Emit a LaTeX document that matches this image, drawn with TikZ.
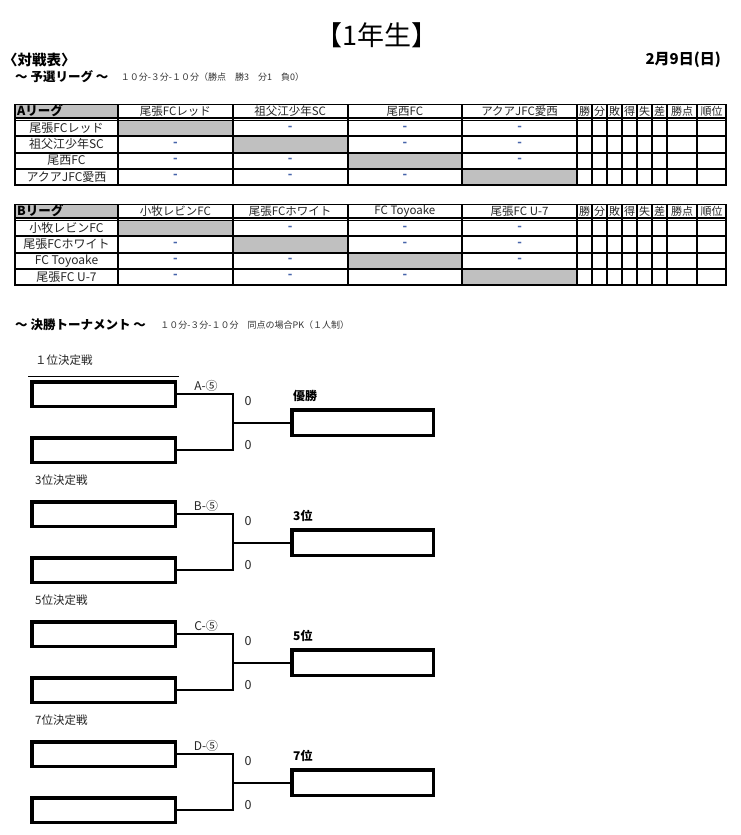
\documentclass[tikz,border=0pt]{standalone}
\usepackage{fontspec}
\setmainfont{Noto Sans CJK JP}
\usetikzlibrary{positioning}
\definecolor{cellgray}{RGB}{192,192,192}
\definecolor{dashblue}{RGB}{70,100,170}
\tikzset{
  grid/.style={line width=2pt},
  thin grid/.style={line width=0.8pt},
  cell/.style={inner sep=0pt,text=black!85,font=\fontsize{12}{12}\selectfont},
  head/.style={inner sep=0pt,text=black!85,font=\fontsize{11.5}{12}\selectfont},
  stat/.style={inner sep=0pt,text=black!85,font=\fontsize{11}{11}\selectfont},
  league/.style={inner sep=0pt,anchor=west,font=\fontsize{12.5}{13}\selectfont\bfseries},
  score/.style={inner sep=0pt,text=dashblue,font=\fontsize{12}{12}\selectfont\bfseries},
  teambox/.style={draw,line width=3.5pt,minimum width=143.5pt,minimum height=24.5pt,inner sep=0pt},
  winbox/.style={teambox,minimum width=141.5pt,minimum height=25.5pt},
  bracket/.style={line width=2pt},
  caption/.style={inner sep=0pt,anchor=west,text=black!85,font=\fontsize{11.5}{12}\selectfont},
  match/.style={inner sep=0pt,text=black!85,font=\fontsize{12}{12}\selectfont},
  goals/.style={inner sep=0pt,text=black!85,font=\fontsize{12.5}{12}\selectfont},
  result/.style={inner sep=0pt,font=\fontsize{12}{12}\selectfont\bfseries},
  heading/.style={inner sep=0pt,anchor=west,font=\fontsize{12.5}{13}\selectfont\bfseries},
  note/.style={inner sep=0pt,text=black!80,font=\fontsize{9}{9}\selectfont}
}

\begin{document}
\begin{tikzpicture}[x=1pt,y=-1pt]
  \useasboundingbox[fill=white] (0,0) rectangle (741,835);

  \node[font=\fontsize{27}{27}\selectfont] (title) at (377,35) {【1年生】};
  \node[inner sep=0pt,anchor=west,font=\fontsize{14.5}{15}\selectfont\bfseries] (sheet) at (3,60) {〈対戦表〉};
  \node[inner sep=0pt,anchor=east,font=\fontsize{15}{15}\selectfont\bfseries] (date) at (721,60) {2月9日(日)};
  \node[heading] (prelim) at (15,77) {～ 予選リーグ ～};
  \node[note,right=12pt of prelim] (prelimnote) {１０分-３分-１０分（勝点　勝3　分1　負0）};

  % league tables
  \foreach \lg/\yt/\teams in {A/104/{尾張FCレッド,祖父江少年SC,尾西FC,アクアJFC愛西},
                              B/204/{小牧レビンFC,尾張FCホワイト,FC Toyoake,尾張FC U-7}}{
    \begin{scope}[shift={(0,\yt)}]
      \fill[cellgray] (15,0) rectangle (118,14);
      \foreach \r in {1,...,4}
        \fill[cellgray] ({118+114.75*(\r-1)},{16+16.25*(\r-1)}) rectangle ++(114.75,16.25);
      \node[league] (\lg-0-0) at (17,7) {\lg リーグ};
      \foreach \t [count=\c] in \teams {
        \node[head] (\lg-0-\c) at ({118+114.75*(\c-0.5)},7) {\t};
        \node[cell] (\lg-\c-0) at (66.5,{16+16.25*(\c-0.5)}) {\t};
        \foreach \k in {1,...,4}{
          \ifnum\k=\c\else
            \node[score] (\lg-\c-\k) at ({118+114.75*(\k-0.5)},{16+16.25*(\c-0.5)}) {-};
          \fi
        }
      }
      \foreach \s [count=\k] in {勝,分,敗,得,失,差}
        \node[stat] (\lg-h-\k) at ({577+15*(\k-0.5)},7) {\s};
      \node[stat] (\lg-h-7) at (682,7) {勝点};
      \node[stat] (\lg-h-8) at (711.5,7) {順位};
      % lines
      \draw[thin grid] (15,0) -- (726,0);
      \draw[grid] (15,0) -- (15,81) -- (726,81) -- (726,0);
      \foreach \x in {118,232.75,347.5,462.25,577,592,607,622,637,652,667,697}
        \draw[grid] (\x,0) -- (\x,81);
      \draw[grid] (15,14) -- (726,14);
      \draw[thin grid] (15,16.5) -- (726,16.5);
      \foreach \r in {1,2,3}
        \draw[grid] (15,{16+16.25*\r}) -- (726,{16+16.25*\r});
    \end{scope}
  }

  \node[heading] (final) at (15,325) {～ 決勝トーナメント ～};
  \node[note,right=14pt of final] (finalnote) {１０分-３分-１０分　同点の場合PK（１人制）};

  % brackets
  \foreach \i/\ttl/\m/\res in {0/１位決定戦/A/優勝,1/3位決定戦/B/3位,2/5位決定戦/C/5位,3/7位決定戦/D/7位}{
    \begin{scope}[shift={(0,120*\i)}]
      \node[caption] (t\i) at (35,360) {\ttl};
      \node[teambox] (p\i) at (103.5,394) {};
      \node[teambox] (q\i) at (103.5,450) {};
      \node[winbox] (w\i) at (362.5,422.5) {};
      \coordinate (j\i) at (233,422.5);
      \draw[bracket] (p\i.east) -| (j\i) |- (q\i.east);
      \draw[bracket] (j\i) -- (w\i.west);
      \node[match] (m\i) at (206,386) {\m-⑤};
      \node[goals] (g\i) at (248,401) {0};
      \node[goals] (h\i) at (248,445) {0};
      \node[result,above right=6pt and 3pt of w\i.north west] (r\i) {\res};
    \end{scope}
  }
  \draw[thin grid] ([xshift=-1.75pt,yshift=3.5pt]p0.north west) -- ([xshift=1.75pt,yshift=3.5pt]p0.north east);
\end{tikzpicture}
\end{document}
